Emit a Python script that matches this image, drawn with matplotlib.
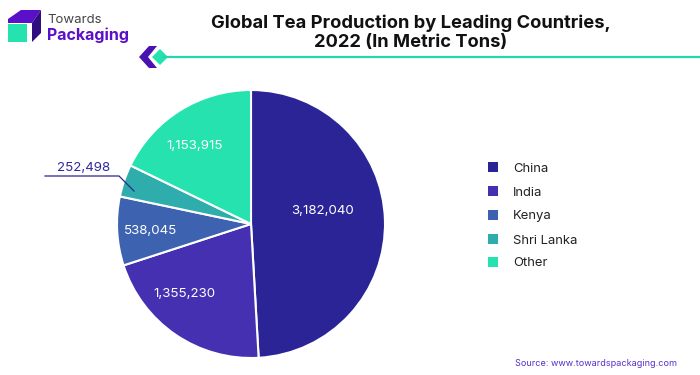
import matplotlib
matplotlib.use("Agg")
import matplotlib.pyplot as plt
from matplotlib.patches import Polygon, Rectangle

countries = ["China", "India", "Kenya", "Shri Lanka", "Other"]
production = [3182040, 1355230, 538045, 252498, 1153915]
value_labels = ["3,182,040", "1,355,230", "538,045", "252,498", "1,153,915"]
colors = ["#2A2496", "#4430B0", "#3C62B0", "#2FADAD", "#25E2AE"]
title_lines = "Global Tea Production by Leading Countries,\n2022 (In Metric Tons)"
source = "Source: www.towardspackaging.com"

W, H = 700, 375
plt.rcParams["font.family"] = ["Inter", "DejaVu Sans"]

fig = plt.figure(figsize=(W / 100, H / 100), dpi=100)

# pie centred at (251, 224), radius 134
cx, cy, r = 251, 224, 134
ax = fig.add_axes([(cx - r) / W, 1 - (cy + r) / H, 2 * r / W, 2 * r / H])
ax.pie(production, colors=colors, startangle=90, counterclock=False, radius=1,
       wedgeprops={"edgecolor": "white", "linewidth": 1.5})
ax.set_xlim(-1, 1)
ax.set_ylim(-1, 1)

# overlay in pixel coordinates for labels, legend and logo
top = fig.add_axes([0, 0, 1, 1], facecolor="none")
top.set_xlim(0, W)
top.set_ylim(H, 0)
top.axis("off")

label_pos = [(322.5, 211), (184.5, 294), (151, 231), (84, 168), (195, 146)]
for i, (x, y) in enumerate(label_pos):
    col = "#2E2A9E" if i == 3 else "white"
    top.text(x, y, value_labels[i], color=col, fontsize=9.6, ha="center", va="center")

# leader line for Shri Lanka
top.plot([45, 119, 134], [176, 176, 191], color="#2A2496", lw=0.9, solid_joinstyle="miter")

# title
top.text(411, 33, title_lines, ha="center", va="center", fontsize=13.2,
         fontweight="bold", color="#111111", linespacing=1.15)

# legend
leg_y = [167, 191, 215, 239, 262]
for name, col, y in zip(countries, colors, leg_y):
    top.add_patch(Rectangle((488, y - 5), 10, 10, facecolor=col, edgecolor="none"))
    top.text(513, y + 1.5, name, fontsize=9.4, color="#222222", va="center")

# logo
top.add_patch(Polygon([(8, 19), (21, 10), (41, 10), (32, 23), (8, 23)], closed=True, facecolor="#5A10C8", edgecolor="none"))
top.add_patch(Polygon([(32, 23), (41, 10), (41, 33), (32, 42)], closed=True, facecolor="#2F0F80", edgecolor="none"))
top.add_patch(Rectangle((8, 24), 19, 18, facecolor="#25E2AE", edgecolor="none"))
top.text(47, 20, "Towards", fontsize=9.5, color="#444444", va="center")
top.text(46.5, 35, "Packaging", fontsize=11.5, color="#5A10C8", va="center", fontweight="bold")

# arrow ornament and rule
top.plot([163, 700], [57, 57], color="#25D6AE", lw=1.6)
top.add_patch(Polygon([(139, 57), (149, 46), (157, 46), (148, 57), (157, 68), (149, 68)], closed=True, facecolor="#4A12B0", edgecolor="none"))
top.add_patch(Polygon([(152, 57), (160, 49), (168, 57), (160, 65)], closed=True, facecolor="#25E2AE", edgecolor="none"))

# source
top.text(677, 363, source, ha="right", va="center", fontsize=6.5, color="#5A2FC8")

fig.savefig("out.png", dpi=100)
